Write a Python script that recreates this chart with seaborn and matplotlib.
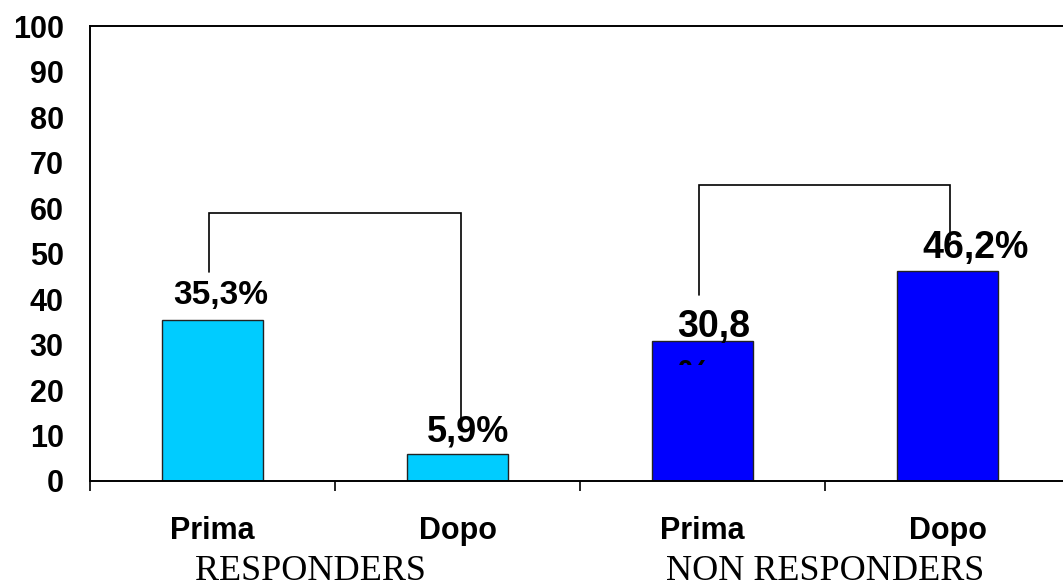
import matplotlib
matplotlib.use('Agg')
import matplotlib.pyplot as plt
import pandas as pd
import seaborn as sns
from matplotlib.transforms import Bbox, TransformedBbox

# data
bar_ids = ['R-Prima', 'R-Dopo', 'NR-Prima', 'NR-Dopo']
tick_labels = ['Prima', 'Dopo', 'Prima', 'Dopo']
values = [35.3, 5.9, 30.8, 46.2]
value_labels = ['35,3%', '5,9%', '30,8\n%', '46,2%']
group_labels = ['RESPONDERS', 'NON RESPONDERS']
bar_colors = ['#00CCFF', '#00CCFF', '#0000FF', '#0000FF']

sns.set_style('white')
plt.rcParams['font.family'] = ['Liberation Sans', 'DejaVu Sans']
plt.rcParams['text.color'] = 'black'
plt.rcParams['xtick.color'] = 'black'
plt.rcParams['ytick.color'] = 'black'
plt.rcParams['xtick.labelcolor'] = 'black'
plt.rcParams['ytick.labelcolor'] = 'black'

df = pd.DataFrame({'id': bar_ids, 'value': values})

fig = plt.figure(figsize=(10.63, 5.87), dpi=100)
ax = fig.add_axes([0.0847, 0.1806, 0.922, 0.775])

sns.barplot(data=df, x='id', y='value', hue='id', palette=bar_colors,
            order=bar_ids, hue_order=bar_ids, legend=False, width=0.41,
            edgecolor='#222222', linewidth=1.0, saturation=1, ax=ax)

ax.set_xlim(-0.5, 3.5)
ax.set_ylim(0, 100)
ax.set_yticks(range(0, 101, 10))
ax.tick_params(axis='y', direction='out', length=8, width=1.4, pad=11,
               labelsize=22, color='black', labelcolor='black')
for t in ax.get_yticklabels():
    t.set_fontweight('bold')

ax.set_xticks(range(4))
ax.set_xticklabels(tick_labels, fontsize=22, fontweight='bold')
ax.tick_params(axis='x', which='major', length=0, pad=25, labelcolor='black')
ax.set_xticks([-0.5, 0.5, 1.5, 2.5], minor=True)
ax.tick_params(axis='x', which='minor', direction='out', length=7, width=1.2,
               color='black', bottom=True)
ax.set_xlabel('')
ax.set_ylabel('')

for side in ['left', 'bottom', 'top', 'right']:
    ax.spines[side].set_visible(True)
    ax.spines[side].set_color('black')
    ax.spines[side].set_linewidth(1.4)

# significance brackets
brackets = [(-0.015, 1.015, 45.9, 58.9, 12.5), (1.986, 3.01, 40.9, 65.1, 53.0)]
for x0, x1, y0, ytop, y1 in brackets:
    ax.plot([x0, x0, x1, x1], [y0, ytop, ytop, y1], color='black', lw=1.2,
            zorder=3, solid_joinstyle='miter')

# value labels
offsets = [(6, 18, 'center', 'center', 24), (7.6, 16, 'center', 'center', 26),
           (-18.4, 23, 'left', 'top', 27), (19.8, 16.6, 'center', 'center', 27)]
for i, (v, lab) in enumerate(zip(values, value_labels)):
    dx, dy, ha, va, fs = offsets[i]
    t = ax.annotate(lab, xy=(i, v), xytext=(dx, dy), textcoords='offset points',
                    ha=ha, va=va, fontsize=fs, fontweight='bold', color='black',
                    linespacing=1.5, zorder=5, annotation_clip=False)
    if '\n' in lab:
        t.set_clip_box(TransformedBbox(Bbox([[-0.5, 25.5], [3.5, 100]]), ax.transData))
        t.set_clip_on(True)

# group labels
for gx, g in zip([0.40, 2.5], group_labels):
    ax.annotate(g, xy=(gx, 0), xycoords=('data', 'axes fraction'),
                xytext=(0, -65), textcoords='offset points', ha='center',
                va='center', fontsize=26, family='Liberation Serif',
                color='black', annotation_clip=False)

fig.savefig('out.png', dpi=100)
